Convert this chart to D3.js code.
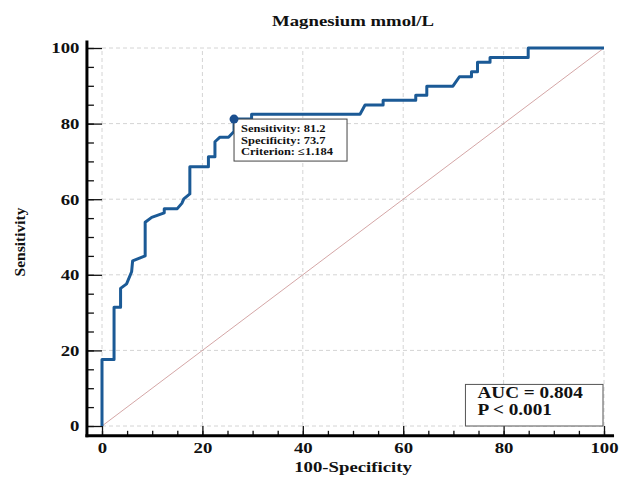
<!DOCTYPE html>
<html>
<head>
<meta charset="utf-8">
<script src="https://cdn.jsdelivr.net/npm/d3@7"></script>
<style>
  body { margin: 0; background: #fff; }
  text { font-family: "Liberation Serif", "Times New Roman", serif; font-weight: bold; }
</style>
</head>
<body>
<svg id="chart"></svg>
<script>
// ROC curve points
const specComp = [0, 0, 2.4, 2.4, 3.7, 3.7, 4.9, 5.9, 6.1, 8.6, 8.6, 9.9, 12.4, 12.4, 15, 15.9, 16.3, 17.5,
  17.5, 21.2, 21.2, 22.5, 22.5, 23.5, 25.2, 26.3, 26.3, 29.8, 29.8, 51.4, 52.4, 56, 56, 62.5, 62.5,
  64.7, 64.7, 69.9, 71.2, 73.6, 73.6, 74.8, 74.8, 77.3, 77.3, 84.9, 84.9, 100];
const sens = [0, 17.6, 17.6, 31.4, 31.4, 36.4, 37.6, 40.8, 43.7, 45, 53.9, 55.2, 56.4, 57.5, 57.5, 58.9, 60.1, 61.4,
  68.6, 68.6, 71.2, 71.2, 75.2, 76.4, 76.4, 77.9, 81.2, 81.2, 82.5, 82.5, 84.9, 84.9, 86.2, 86.2, 87.5,
  87.5, 89.9, 89.9, 92.4, 92.4, 93.7, 93.7, 96.2, 96.2, 97.5, 97.5, 100, 100];
const cutPoint = [26.3, 81.2];
const cutLabels = ["Sensitivity: 81.2", "Specificity: 73.7", "Criterion: \u22641.184"];
const aucLabels = ["AUC = 0.804", "P < 0.001"];
const majorTicks = [0, 20, 40, 60, 80, 100];
const minorTicks = d3.range(0, 101, 5);

const width = 619, height = 477;
const stretch = 'scale(1.25,1)';  // the source text is a bit wide
const svg = d3.select('#chart').attr('width', width).attr('height', height);

const x = d3.scaleLinear().domain([0, 100]).range([102, 604]);
const y = d3.scaleLinear().domain([0, 100]).range([426, 48]);

// grid
svg.append('g').selectAll('line').data(majorTicks).join('line')
  .attr('x1', d => x(d)).attr('x2', d => x(d))
  .attr('y1', y(0)).attr('y2', y(100))
  .attr('stroke', '#d4d4d4').attr('stroke-dasharray', '4,3');
svg.append('g').selectAll('line').data(majorTicks).join('line')
  .attr('y1', d => y(d)).attr('y2', d => y(d))
  .attr('x1', x(0)).attr('x2', x(100))
  .attr('stroke', '#d4d4d4').attr('stroke-dasharray', '4,3');

// diagonal reference
svg.append('line')
  .attr('x1', x(0)).attr('y1', y(0)).attr('x2', x(100)).attr('y2', y(100))
  .attr('stroke', '#c98f8f').attr('stroke-width', 0.8);

// axes (offset from plot area)
const axX = x(-3), axY = y(-2.6);

// y axis: labels, then ticks pointing inward
svg.append('g').attr('transform', `translate(${axX},0)`)
  .call(d3.axisLeft(y).tickValues(majorTicks).tickSize(0).tickPadding(6))
  .call(g => g.select('.domain').remove())
  .selectAll('text').attr('font-size', 15).attr('fill', '#111').attr('transform', stretch);
svg.append('g').attr('transform', `translate(${axX},0)`)
  .call(d3.axisRight(y).tickValues(minorTicks).tickSize(7).tickFormat(''))
  .call(g => g.select('.domain').remove())
  .selectAll('line').attr('stroke', '#111').attr('stroke-width', 1.3);
svg.append('g').attr('transform', `translate(${axX},0)`)
  .call(d3.axisRight(y).tickValues(majorTicks).tickSize(x(0) - axX).tickFormat(''))
  .call(g => g.select('.domain').remove())
  .selectAll('line').attr('stroke', '#111').attr('stroke-width', 1.3);

// x axis
svg.append('g').attr('transform', `translate(0,${axY})`)
  .call(d3.axisBottom(x).tickValues(majorTicks).tickSize(0).tickPadding(7))
  .call(g => g.select('.domain').remove())
  .selectAll('text').attr('font-size', 15).attr('fill', '#111').attr('transform', stretch);
svg.append('g').attr('transform', `translate(0,${axY})`)
  .call(d3.axisTop(x).tickValues(minorTicks).tickSize(5).tickFormat(''))
  .call(g => g.select('.domain').remove())
  .selectAll('line').attr('stroke', '#111').attr('stroke-width', 1.3);
svg.append('g').attr('transform', `translate(0,${axY})`)
  .call(d3.axisTop(x).tickValues(majorTicks).tickSize(axY - y(0)).tickFormat(''))
  .call(g => g.select('.domain').remove())
  .selectAll('line').attr('stroke', '#111').attr('stroke-width', 1.3);

// axis lines
svg.append('line').attr('x1', axX).attr('x2', axX).attr('y1', y(102)).attr('y2', axY + 1.5)
  .attr('stroke', '#000').attr('stroke-width', 3);
svg.append('line').attr('x1', axX - 1.5).attr('x2', x(102)).attr('y1', axY).attr('y2', axY)
  .attr('stroke', '#000').attr('stroke-width', 3);

// ROC curve
const pts = specComp.map((d, i) => [d, sens[i]]);
svg.append('path').datum(pts)
  .attr('fill', 'none').attr('stroke', '#1b5a96').attr('stroke-width', 3)
  .attr('stroke-linejoin', 'round')
  .attr('d', d3.line().x(d => x(d[0])).y(d => y(d[1])));

// criterion point + box
const bx = x(cutPoint[0]), by = y(cutPoint[1]);
svg.append('rect').attr('x', bx).attr('y', by).attr('width', 113).attr('height', 42)
  .attr('fill', '#fff').attr('stroke', '#444').attr('stroke-width', 1);
svg.append('circle').attr('cx', bx).attr('cy', by).attr('r', 4.5)
  .attr('fill', '#1b4f8f');
svg.append('g').selectAll('text').data(cutLabels).join('text')
  .attr('transform', (d, i) => `translate(${bx + 7},${by + 13 + i * 11.6}) scale(1.2,1)`)
  .attr('font-size', 10.4).attr('fill', '#111').text(d => d);

// AUC box
svg.append('rect').attr('x', x(72.4)).attr('y', y(11)).attr('width', x(100) - 1 - x(72.4)).attr('height', y(0) - y(11))
  .attr('fill', '#fff').attr('stroke', '#555').attr('stroke-width', 1);
svg.append('g').selectAll('text').data(aucLabels).join('text')
  .attr('transform', (d, i) => `translate(${x(74.8)},${y(7.3) + i * 17}) scale(1.2,1)`)
  .attr('font-size', 16).attr('fill', '#111').text(d => d);

// titles
svg.append('text').attr('transform', `translate(${x(50)},26) ${stretch}`).attr('text-anchor', 'middle')
  .attr('font-size', 15).attr('fill', '#111').text('Magnesium mmol/L');
svg.append('text').attr('transform', `translate(${x(50)},472) ${stretch}`).attr('text-anchor', 'middle')
  .attr('font-size', 15).attr('fill', '#111').text('100-Specificity');
svg.append('text').attr('transform', `translate(25,${y(50) + 5}) rotate(-90)`).attr('text-anchor', 'middle')
  .attr('font-size', 15.5).attr('fill', '#111').text('Sensitivity');
</script>
</body>
</html>
